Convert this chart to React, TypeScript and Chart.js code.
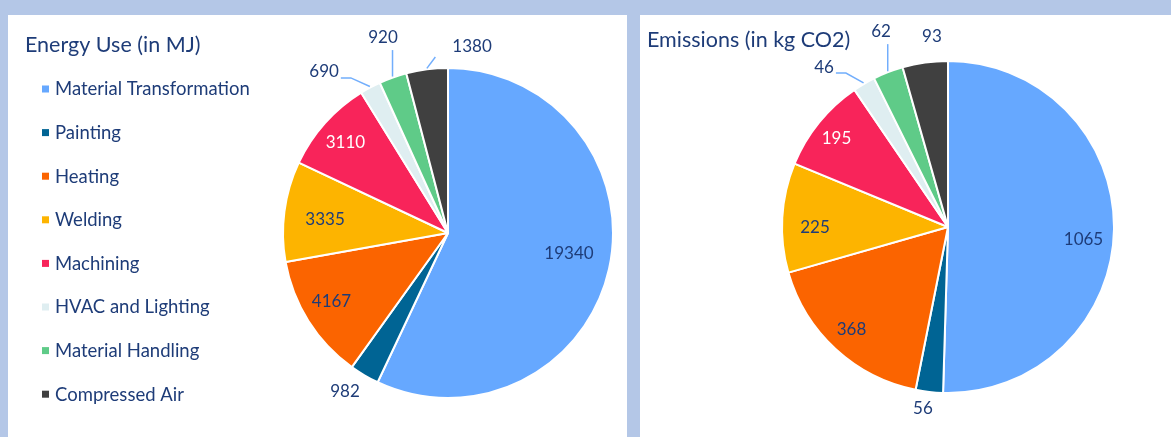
import React, { useEffect, useRef } from 'react';
import { Chart, registerables } from 'chart.js';

Chart.register(...registerables);

// ---------- data ----------
const categories = [
  'Material Transformation',
  'Painting',
  'Heating',
  'Welding',
  'Machining',
  'HVAC and Lighting',
  'Material Handling',
  'Compressed Air',
];
const energyValues = [19340, 982, 4167, 3335, 3110, 690, 920, 1380];
const emissionValues = [1065, 56, 368, 225, 195, 46, 62, 93];
const energyTitle = 'Energy Use (in MJ)';
const emissionTitle = 'Emissions (in kg CO2)';

// ---------- styles ----------
const sliceColors = ['#66a8ff', '#006494', '#fb6400', '#fdb400', '#f8245a', '#dfeef1', '#5fcb88', '#404040'];
const NAVY = '#1e3c78';
const labelTextColors = [NAVY, NAVY, NAVY, NAVY, '#ffffff', NAVY, NAVY, NAVY];
const LEADER = '#72aefc';
const FONT = 'Lato, "Open Sans", sans-serif';
// label placement per slice: [radius factor, angle shift in degrees]
const energyLabelPlacement = [[0.744, -2.8], [1.148, 2.5], [0.818, 1.9], [0.75, -1.1], [0.827, -0.5], [1.232, -9.5], [1.246, 1.1], [1.137, 14.7]];
const emissionLabelPlacement = [[0.82, 4.6], [1.101, 1.4], [0.85, 0.5], [0.801, -3.6], [0.859, -0.5], [1.219, -7.4], [1.242, 2.2], [1.149, 3.1]];

type PanelCfg = {
  title: string;
  values: number[];
  placement: number[][];
  width: number;
  height: number;
  padding: { left: number; top: number; right: number; bottom: number };
  radius: number;
  titleX: number;
  titleY: number;
  showLegend: boolean;
};

function makePlugin(cfg: PanelCfg) {
  return {
    id: 'customText',
    afterDraw(chart: any) {
      const ctx = chart.ctx as CanvasRenderingContext2D;
      ctx.save();
      // title
      ctx.fillStyle = NAVY;
      ctx.font = `21.5px ${FONT}`;
      ctx.textAlign = 'left';
      ctx.textBaseline = 'alphabetic';
      ctx.fillText(cfg.title, cfg.titleX, cfg.titleY);

      // legend
      if (cfg.showLegend) {
        ctx.font = `18.5px ${FONT}`;
        ctx.textBaseline = 'middle';
        const startY = 74;
        const step = 43.6;
        categories.forEach((c, i) => {
          const y = startY + i * step;
          ctx.fillStyle = sliceColors[i];
          ctx.fillRect(34, y - 3.5, 7, 7);
          ctx.fillStyle = NAVY;
          ctx.fillText(c, 47, y + 0.5);
        });
      }

      // data labels
      const meta = chart.getDatasetMeta(0);
      const fs = 17;
      ctx.font = `${fs}px ${FONT}`;
      ctx.textAlign = 'center';
      ctx.textBaseline = 'middle';
      meta.data.forEach((arc: any, i: number) => {
        const p = arc.getProps(['x', 'y', 'startAngle', 'endAngle', 'outerRadius'], true);
        const mid = (p.startAngle + p.endAngle) / 2;
        const [rf, shift] = cfg.placement[i];
        const a = mid + (shift * Math.PI) / 180;
        const lx = p.x + Math.cos(a) * rf * p.outerRadius;
        const ly = p.y + Math.sin(a) * rf * p.outerRadius;
        const text = String(cfg.values[i]);
        if (rf > 1) {
          const w = ctx.measureText(text).width;
          const h = fs * 0.72;
          const left = lx - w / 2;
          const right = lx + w / 2;
          const top = ly - h / 2;
          const bottom = ly + h / 2;
          const ex = p.x + Math.cos(mid) * (p.outerRadius + 1);
          const ey = p.y + Math.sin(mid) * (p.outerRadius + 1);
          const dx = ex < left ? left - ex : ex > right ? ex - right : 0;
          const dy = ey < top ? top - ey : ey > bottom ? ey - bottom : 0;
          const dist = Math.hypot(dx, dy);
          if (dist > 22) {
            ctx.strokeStyle = LEADER;
            ctx.lineWidth = 1.5;
            ctx.beginPath();
            ctx.moveTo(ex, ey);
            if (ex >= left && ex <= right) {
              ctx.lineTo(ex, bottom + 6);
            } else if (ex > right) {
              ctx.lineTo(right + 12, ly + 6);
              ctx.lineTo(right + 2, ly + 6);
            } else {
              ctx.lineTo(left - 17, bottom + 4);
            }
            ctx.stroke();
          }
        }
        ctx.fillStyle = labelTextColors[i];
        ctx.fillText(text, lx, ly);
      });
      ctx.restore();
    },
  };
}

function PiePanel({ cfg, left }: { cfg: PanelCfg; left: number }) {
  const ref = useRef<HTMLCanvasElement | null>(null);
  useEffect(() => {
    if (!ref.current) return;
    const chart = new Chart(ref.current, {
      type: 'pie',
      data: {
        labels: categories,
        datasets: [
          {
            data: cfg.values,
            backgroundColor: sliceColors,
            borderColor: '#ffffff',
            borderWidth: 2,
            radius: cfg.radius,
          } as any,
        ],
      },
      options: {
        responsive: false,
        animation: false,
        layout: { padding: cfg.padding },
        plugins: {
          legend: { display: false },
          title: { display: false },
          tooltip: { enabled: false },
        },
        events: [],
      },
      plugins: [makePlugin(cfg)],
    });
    return () => chart.destroy();
  }, [cfg]);
  return (
    <div
      style={{
        position: 'absolute',
        left,
        top: 15,
        width: cfg.width,
        height: cfg.height,
        background: '#ffffff',
      }}
    >
      <canvas ref={ref} width={cfg.width} height={cfg.height} style={{ width: cfg.width, height: cfg.height, display: 'block' }} />
    </div>
  );
}

const energyCfg: PanelCfg = {
  title: energyTitle,
  values: energyValues,
  placement: energyLabelPlacement,
  width: 619,
  height: 422,
  padding: { left: 261, top: 14, right: 0, bottom: 0 },
  radius: 165,
  titleX: 17,
  titleY: 37,
  showLegend: true,
};

const emissionCfg: PanelCfg = {
  title: emissionTitle,
  values: emissionValues,
  placement: emissionLabelPlacement,
  width: 531,
  height: 422,
  padding: { left: 85, top: 2, right: 0, bottom: 0 },
  radius: 166,
  titleX: 7,
  titleY: 32,
  showLegend: false,
};

export default function App() {
  return (
    <div
      style={{
        position: 'fixed',
        left: 0,
        top: 0,
        width: 1171,
        height: 437,
        background: '#b4c7e7',
        overflow: 'hidden',
      }}
    >
      <PiePanel cfg={energyCfg} left={8} />
      <PiePanel cfg={emissionCfg} left={640} />
    </div>
  );
}
